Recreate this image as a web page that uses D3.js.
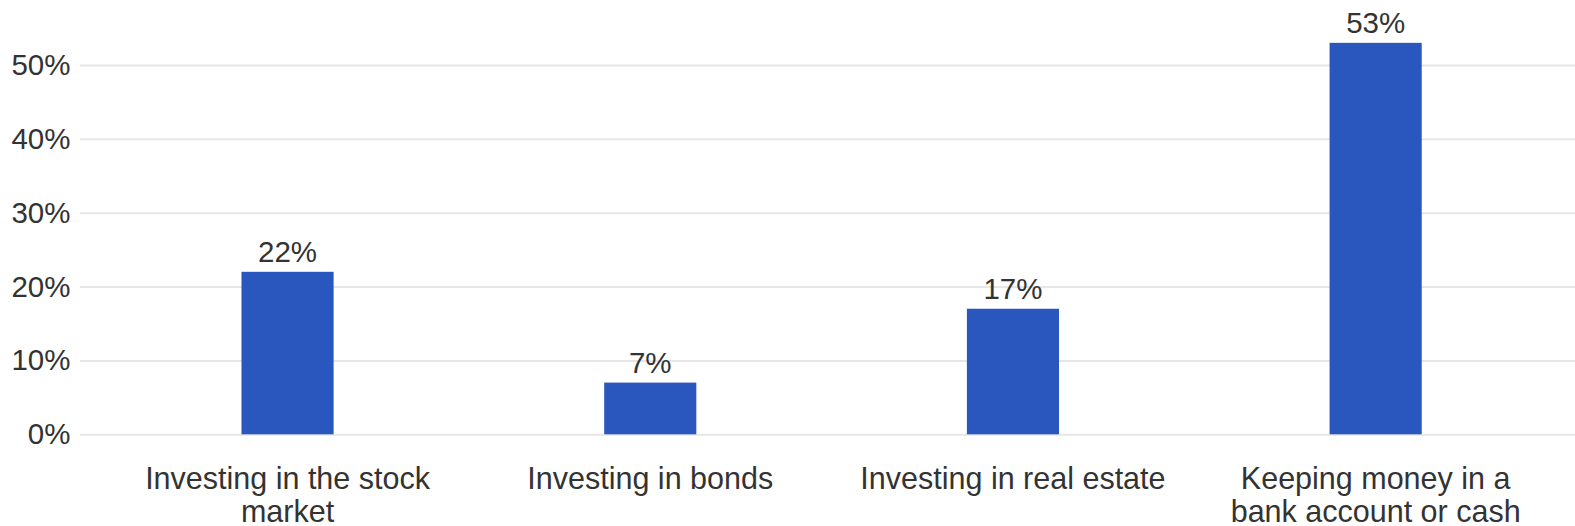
<!DOCTYPE html>
<html>
<head>
<meta charset="utf-8">
<script src="https://cdn.jsdelivr.net/npm/d3@7"></script>
<style>
  html, body { margin: 0; padding: 0; background: #ffffff; }
  svg { display: block; font-family: "Liberation Sans", Arial, sans-serif; }
</style>
</head>
<body>
<svg id="chart" width="1575" height="526"></svg>
<script>
// Where people would put their money
const categories = [
  ["Investing in the stock", "market"],
  ["Investing in bonds"],
  ["Investing in real estate"],
  ["Keeping money in a", "bank account or cash"]
];
const values = [22, 7, 17, 53];
const yTicks = [0, 10, 20, 30, 40, 50];

const gridLeft = 80, gridRight = 1575;
const yTop = 65, yBottom = 434.3;

const svg = d3.select("#chart");

const x = d3.scaleBand()
  .domain(d3.range(categories.length))
  .range([106.2, 1557])
  .paddingInner(0.746)
  .paddingOuter(0.373);

const y = d3.scaleLinear()
  .domain([0, 50])
  .range([yBottom, yTop]);

// Gridlines and y tick labels
const yAxis = d3.axisLeft(y)
  .tickValues(yTicks)
  .tickSize(-(gridRight - gridLeft))
  .tickPadding(10)
  .tickFormat(d => d + "%");

const gy = svg.append("g")
  .attr("transform", `translate(${gridLeft},0)`)
  .call(yAxis);
gy.select(".domain").remove();
gy.selectAll(".tick line")
  .attr("stroke", "#e6e6e6")
  .attr("stroke-width", 2);
gy.selectAll(".tick text")
  .attr("fill", "#333333")
  .attr("font-size", "29.5px")
  .attr("x", -9.5);

// Bars
svg.append("g")
  .selectAll("rect")
  .data(values)
  .join("rect")
  .attr("x", (d, i) => x(i))
  .attr("width", x.bandwidth())
  .attr("y", d => y(d))
  .attr("height", d => y(0) - y(d))
  .attr("fill", "#2957be");

// Value labels above bars
svg.append("g")
  .selectAll("text")
  .data(values)
  .join("text")
  .attr("x", (d, i) => x(i) + x.bandwidth() / 2)
  .attr("y", d => y(d) - 9.5)
  .attr("text-anchor", "middle")
  .attr("fill", "#333333")
  .attr("font-size", "29.5px")
  .text(d => d + "%");

// Category labels (wrapped onto lines)
const cat = svg.append("g")
  .selectAll("text")
  .data(categories)
  .join("text")
  .attr("text-anchor", "middle")
  .attr("fill", "#333333")
  .attr("font-size", "30.5px")
  .attr("x", (d, i) => x(i) + x.bandwidth() / 2)
  .attr("y", 489);
cat.selectAll("tspan")
  .data(d => d)
  .join("tspan")
  .attr("x", function () { return d3.select(this.parentNode).attr("x"); })
  .attr("dy", (d, i) => i === 0 ? 0 : 33)
  .text(d => d);
</script>
</body>
</html>
